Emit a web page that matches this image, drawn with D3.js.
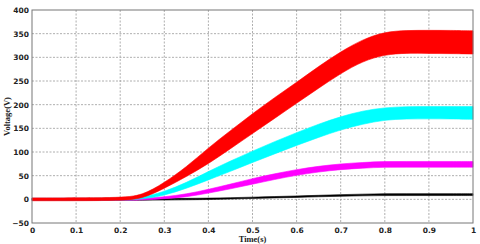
<!DOCTYPE html>
<html>
<head>
<meta charset="utf-8">
<script src="https://cdn.jsdelivr.net/npm/d3@7"></script>
<style>
  body { margin: 0; background: #fff; }
  .tick text { font-family: "DejaVu Sans", Verdana, sans-serif; font-weight: bold; font-size: 7.5px; fill: #222; }
  .axis-title { font-family: "Liberation Serif", "Times New Roman", serif; font-weight: bold; font-size: 8.5px; fill: #222; }
</style>
</head>
<body>
<div id="chart"></div>
<script>
// time samples (s)
const time = [0, 0.2, 0.25, 0.3, 0.35, 0.4, 0.45, 0.5, 0.55, 0.6, 0.65, 0.7, 0.75, 0.8, 0.85, 0.9, 0.95, 1.0];

// envelopes of each ripple band (V)
const redLow   = [-3, -3, 1, 23, 48, 75, 107, 139, 171, 203, 235, 266, 292, 306, 309, 308, 308, 307];
const redHigh  = [3, 3, 8, 35, 68, 109, 145, 181, 215, 247, 281, 312, 338, 354, 357, 357, 357, 356];
const cyanLow  = [-2, -2, 0, 8, 23, 41, 59, 78, 96, 114, 131, 147, 159, 168, 170, 170, 170, 169];
const cyanHigh = [2, 2, 4, 16, 35, 59, 81, 102, 122, 141, 159, 175, 187, 194, 196, 196, 196, 196];
const magLow   = [-2, -2, -1.5, 1, 5, 13, 22, 32, 42, 51, 58, 63, 66, 68, 68, 68, 68, 68];
const magHigh  = [2, 2, 2, 5, 11, 21, 32, 44, 54, 63, 70, 75, 78, 80, 80, 80, 80, 80];
const blkLow   = [-2, -2, -2, -1.5, -1, -0.5, 0.5, 2, 3, 4, 5.5, 6.5, 7.5, 8, 8, 8, 8, 8];
const blkHigh  = [2, 2, 2, 2, 2, 2.5, 3.5, 4.5, 6, 7, 8.5, 10, 11, 12, 12, 12, 12, 12];

const xTicks = [0, 0.1, 0.2, 0.3, 0.4, 0.5, 0.6, 0.7, 0.8, 0.9, 1];
const yTicks = [-50, 0, 50, 100, 150, 200, 250, 300, 350, 400];

const margin = {top: 10, right: 7, bottom: 21, left: 32},
      width = 480 - margin.left - margin.right,
      height = 244 - margin.top - margin.bottom;

const svg = d3.select("#chart")
  .append("svg")
  .attr("width", 480)
  .attr("height", 244)
  .append("g")
  .attr("transform", `translate(${margin.left}, ${margin.top})`);

const x = d3.scaleLinear().domain([0, 1]).range([0, width]);
const y = d3.scaleLinear().domain([-50, 400]).range([height, 0]);

// grid
svg.append("g")
  .selectAll("line")
  .data(xTicks.slice(1, -1))
  .join("line")
    .attr("x1", d => x(d)).attr("x2", d => x(d))
    .attr("y1", 0).attr("y2", height)
    .attr("stroke", "#9a9a9a").attr("stroke-dasharray", "2,1.5").attr("stroke-width", 0.8);

svg.append("g")
  .selectAll("line")
  .data(yTicks.slice(1, -1))
  .join("line")
    .attr("x1", 0).attr("x2", width)
    .attr("y1", d => y(d)).attr("y2", d => y(d))
    .attr("stroke", "#9a9a9a").attr("stroke-dasharray", "2,1.5").attr("stroke-width", 0.8);

// bands (black first, red on top)
const series = [
  {low: blkLow, high: blkHigh, color: "#000000"},
  {low: magLow, high: magHigh, color: "#ff00ff"},
  {low: cyanLow, high: cyanHigh, color: "#00ffff"},
  {low: redLow, high: redHigh, color: "#ff0000"}
];

const area = d3.area()
  .x(d => x(d.t))
  .y0(d => y(d.lo))
  .y1(d => y(d.hi))
  .curve(d3.curveBasis);

series.forEach(s => {
  const pts = time.map((t, i) => ({t: t, lo: s.low[i], hi: s.high[i]}));
  svg.append("path")
    .datum(pts)
    .attr("d", area)
    .attr("fill", s.color)
    .attr("stroke", s.color)
    .attr("stroke-width", 0.6);
});

// axes
svg.append("g")
  .attr("transform", `translate(0, ${height})`)
  .call(d3.axisBottom(x).tickValues(xTicks).tickSize(0).tickPadding(5).tickFormat(d3.format("")))
  .call(g => g.select(".domain").remove());

svg.append("g")
  .call(d3.axisLeft(y).tickValues(yTicks).tickSize(0).tickPadding(3))
  .call(g => g.select(".domain").remove());

// frame
svg.append("rect")
  .attr("x", 0).attr("y", 0)
  .attr("width", width).attr("height", height)
  .attr("fill", "none")
  .attr("stroke", "#777")
  .attr("stroke-width", 1);

svg.append("text")
  .attr("class", "axis-title")
  .attr("x", width / 2)
  .attr("y", height + 19)
  .attr("text-anchor", "middle")
  .text("Time(s)");

svg.append("text")
  .attr("class", "axis-title")
  .attr("transform", `translate(${-22}, ${y(175)}) rotate(-90)`)
  .attr("text-anchor", "middle")
  .text("Voltage(V)");
</script>
</body>
</html>
